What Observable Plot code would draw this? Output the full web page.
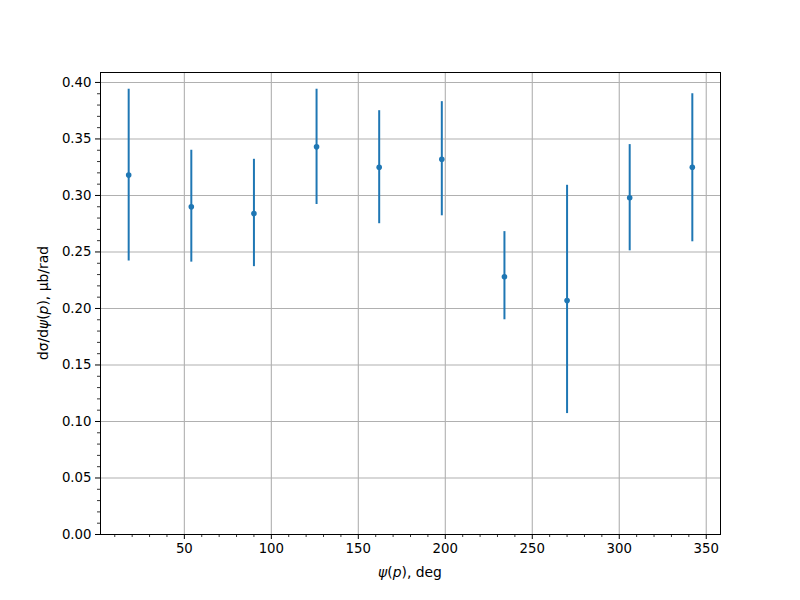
<!DOCTYPE html>
<html>
<head>
<meta charset="utf-8">
<script src="https://cdn.jsdelivr.net/npm/d3@7"></script>
<script src="https://cdn.jsdelivr.net/npm/@observablehq/plot@0.6"></script>
<style>
  html, body { margin: 0; padding: 0; background: #fff; }
  #chart { width: 800px; height: 600px; }
</style>
</head>
<body>
<div id="chart"></div>
<script>
const psi = [18, 54, 90, 126, 162, 198, 234, 270, 306, 342];
const xsec = [0.318, 0.290, 0.284, 0.343, 0.325, 0.332, 0.228, 0.207, 0.298, 0.325];
const errLow = [0.076, 0.049, 0.047, 0.051, 0.050, 0.050, 0.038, 0.100, 0.047, 0.066];
const errHigh = [0.076, 0.050, 0.048, 0.051, 0.050, 0.051, 0.040, 0.102, 0.047, 0.065];
const xTicks = [50, 100, 150, 200, 250, 300, 350];
const xMinor = [10, 20, 30, 40, 60, 70, 80, 90, 110, 120, 130, 140, 160, 170, 180, 190, 210, 220, 230, 240, 260, 270, 280, 290, 310, 320, 330, 340];
const yTicks = [0, 0.05, 0.1, 0.15, 0.2, 0.25, 0.3, 0.35, 0.4];
const yMinor = d3.range(0, 41).map(i => i / 100).filter(v => Math.round(v * 100) % 5 !== 0);

const data = psi.map((x, i) => ({x, y: xsec[i], lo: xsec[i] - errLow[i], hi: xsec[i] + errHigh[i]}));
const color = "#1f77b4";
const grid = "#b0b0b0";

const chart = Plot.plot({
  width: 800,
  height: 600,
  marginLeft: 100,
  marginRight: 80,
  marginTop: 72,
  marginBottom: 66,
  style: {fontFamily: "DejaVu Sans", fontSize: "13.3px", color: "black", background: "white"},
  x: {domain: [1.8, 358.2], label: null},
  y: {domain: [0, 0.4088], label: null},
  marks: [
    Plot.gridX(xTicks, {stroke: grid, strokeOpacity: 1, strokeWidth: 1.1}),
    Plot.gridY(yTicks, {stroke: grid, strokeOpacity: 1, strokeWidth: 1.1}),
    Plot.axisX(xTicks, {tickSize: 5, tickPadding: 4, tickFormat: "d", stroke: "black", strokeWidth: 1, fill: "black"}),
    Plot.axisX(xMinor, {tickSize: 3, text: null, stroke: "black", strokeWidth: 0.8}),
    Plot.axisY(yTicks, {tickSize: 5, tickPadding: 4, tickFormat: ".2f", stroke: "black", strokeWidth: 1, fill: "black"}),
    Plot.axisY(yMinor, {tickSize: 3, text: null, stroke: "black", strokeWidth: 0.8}),
    Plot.ruleX(data, {x: "x", y1: "lo", y2: "hi", stroke: color, strokeWidth: 2}),
    Plot.dot(data, {x: "x", y: "y", r: 2.8, fill: color, stroke: null}),
    Plot.frame({stroke: "black", strokeWidth: 1})
  ]
});

const svg = d3.select(chart);
svg.append("text")
  .attr("x", 410).attr("y", 577)
  .attr("text-anchor", "middle")
  .attr("font-family", "DejaVu Sans").attr("font-size", "13.9px")
  .call(t => {
    t.append("tspan").attr("font-style", "italic").text("ψ");
    t.append("tspan").text("(");
    t.append("tspan").attr("font-style", "italic").text("p");
    t.append("tspan").text("), deg");
  });
svg.append("text")
  .attr("transform", "translate(48,303) rotate(-90)")
  .attr("text-anchor", "middle")
  .attr("font-family", "DejaVu Sans").attr("font-size", "13.9px")
  .call(t => {
    t.append("tspan").text("dσ/d");
    t.append("tspan").attr("font-style", "italic").text("ψ");
    t.append("tspan").text("(");
    t.append("tspan").attr("font-style", "italic").text("p");
    t.append("tspan").text("), μb/rad");
  });

document.getElementById("chart").appendChild(chart);
</script>
</body>
</html>
